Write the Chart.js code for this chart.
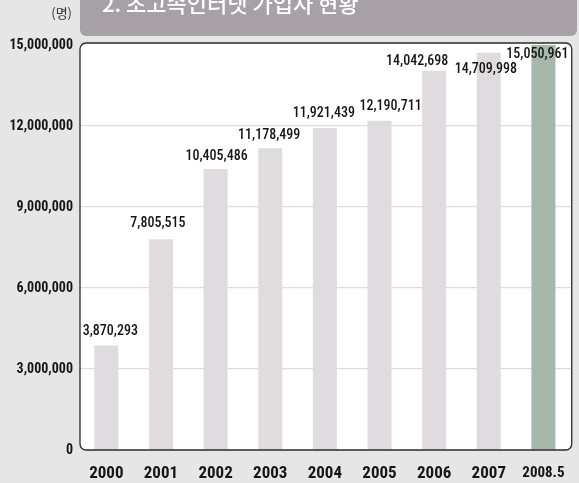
<!DOCTYPE html>
<html>
<head>
<meta charset="utf-8">
<script src="https://cdn.jsdelivr.net/npm/chart.js@4/dist/chart.umd.min.js"></script>
<style>
  html, body { margin: 0; padding: 0; background: #e6e6e6; }
  #wrap { width: 579px; height: 483px; position: relative; }
</style>
</head>
<body>
<div id="wrap"><canvas id="c" width="579" height="483"></canvas></div>
<script>
// 연도별 초고속인터넷 가입자 수 (명)
const years = ['2000', '2001', '2002', '2003', '2004', '2005', '2006', '2007', '2008.5'];
const subscribers = [3870293, 7805515, 10405486, 11178499, 11921439, 12190711, 14042698, 14709998, 15050961];
const yTicks = [0, 3000000, 6000000, 9000000, 12000000, 15000000];
const titleText = '2. 초고속인터넷 가입자 현황';
const unitText = '(명)';

// 값 라벨 미세 위치 조정 (dx, dy px)
const labelNudge = [[4, 0], [-3, -2], [1, 1], [-1, 1], [-1, -1], [11, 0], [-17, 5], [-3, 31], [-6, 25]];

const COND = '"Roboto Condensed", "Liberation Sans Narrow", sans-serif';
const fmt = v => v.toLocaleString('en-US');
const barColors = subscribers.map((_, i) => i === subscribers.length - 1 ? '#a7b8ab' : '#dfdbde');

function roundRectPath(ctx, x, y, w, h, r) {
  ctx.beginPath();
  ctx.moveTo(x + r.tl, y);
  ctx.lineTo(x + w - r.tr, y);
  ctx.arcTo(x + w, y, x + w, y + r.tr, r.tr);
  ctx.lineTo(x + w, y + h - r.br);
  ctx.arcTo(x + w, y + h, x + w - r.br, y + h, r.br);
  ctx.lineTo(x + r.bl, y + h);
  ctx.arcTo(x, y + h, x, y + h - r.bl, r.bl);
  ctx.lineTo(x, y + r.tl);
  ctx.arcTo(x, y, x + r.tl, y, r.tl);
  ctx.closePath();
}

const framePlugin = {
  id: 'frame',
  beforeDraw(chart) {
    const { ctx, chartArea: a, width } = chart;
    ctx.save();
    ctx.fillStyle = '#e6e6e6';
    ctx.fillRect(0, 0, width, chart.height);
    // 제목 띠
    ctx.fillStyle = '#a7a0a6';
    roundRectPath(ctx, a.left + 1, -10, width - 2 - (a.left + 1), 46, { tl: 0, tr: 0, br: 6, bl: 6 });
    ctx.fill();
    ctx.fillStyle = '#ffffff';
    ctx.font = '500 22px "Noto Sans CJK KR", sans-serif';
    ctx.textBaseline = 'alphabetic';
    ctx.textAlign = 'left';
    ctx.fillText(titleText, 102, 12);
    // 단위
    ctx.fillStyle = '#333333';
    ctx.font = '13px "Noto Sans CJK KR", sans-serif';
    ctx.textAlign = 'right';
    ctx.textBaseline = 'middle';
    ctx.fillText(unitText, 72, 13);
    // 그래프 영역 바탕
    ctx.fillStyle = '#ffffff';
    roundRectPath(ctx, a.left + 1, a.top - 2, a.right - a.left, a.bottom - a.top + 2, { tl: 6, tr: 6, br: 6, bl: 6 });
    ctx.fill();
    ctx.restore();
  },
  afterDatasetsDraw(chart) {
    const { ctx, chartArea: a } = chart;
    ctx.save();
    ctx.strokeStyle = '#2a2a2a';
    ctx.lineWidth = 1.3;
    roundRectPath(ctx, a.left + 1, a.top - 2, a.right - a.left, a.bottom - a.top + 2, { tl: 6, tr: 6, br: 6, bl: 6 });
    ctx.stroke();
    // 막대 위 값 표시
    const meta = chart.getDatasetMeta(0);
    ctx.fillStyle = '#151515';
    ctx.font = '500 14px ' + COND;
    ctx.textAlign = 'center';
    ctx.textBaseline = 'middle';
    meta.data.forEach((bar, i) => {
      const [dx, dy] = labelNudge[i];
      const yTop = chart.scales.y.getPixelForValue(subscribers[i]);
      ctx.fillText(fmt(subscribers[i]), bar.x + dx, yTop - 14 + dy);
    });
    ctx.restore();
  }
};

new Chart(document.getElementById('c'), {
  type: 'bar',
  data: {
    labels: years,
    datasets: [{
      data: subscribers,
      backgroundColor: barColors,
      borderWidth: 0,
      barPercentage: 0.44,
      categoryPercentage: 1.0
    }]
  },
  options: {
    responsive: false,
    animation: false,
    devicePixelRatio: 1,
    layout: { padding: { top: 45, right: 8, left: 0, bottom: 0 } },
    plugins: { legend: { display: false }, tooltip: { enabled: false }, title: { display: false } },
    scales: {
      x: {
        grid: { display: false, drawTicks: false },
        border: { display: false },
        afterFit: s => { s.height = 33; },
        ticks: {
          padding: 14,
          maxRotation: 0,
          minRotation: 0,
          autoSkip: false,
          color: '#151515',
          font: ctx => ({
            family: COND,
            size: ctx.index === years.length - 1 ? 15 : 17,
            weight: 'bold'
          })
        }
      },
      y: {
        min: 0,
        max: 15000000,
        afterFit: s => { s.width = 79; },
        afterBuildTicks: s => { s.ticks = yTicks.map(v => ({ value: v })); },
        border: { display: false },
        grid: {
          drawTicks: false,
          color: ctx => (ctx.tick && (ctx.tick.value === 0 || ctx.tick.value === 15000000)) ? 'rgba(0,0,0,0)' : '#dcdcdc',
          lineWidth: 1.2
        },
        ticks: {
          padding: 6,
          color: '#151515',
          font: { family: COND, size: 14, weight: 'bold' },
          callback: v => fmt(v)
        }
      }
    }
  },
  plugins: [framePlugin]
});
</script>
</body>
</html>
